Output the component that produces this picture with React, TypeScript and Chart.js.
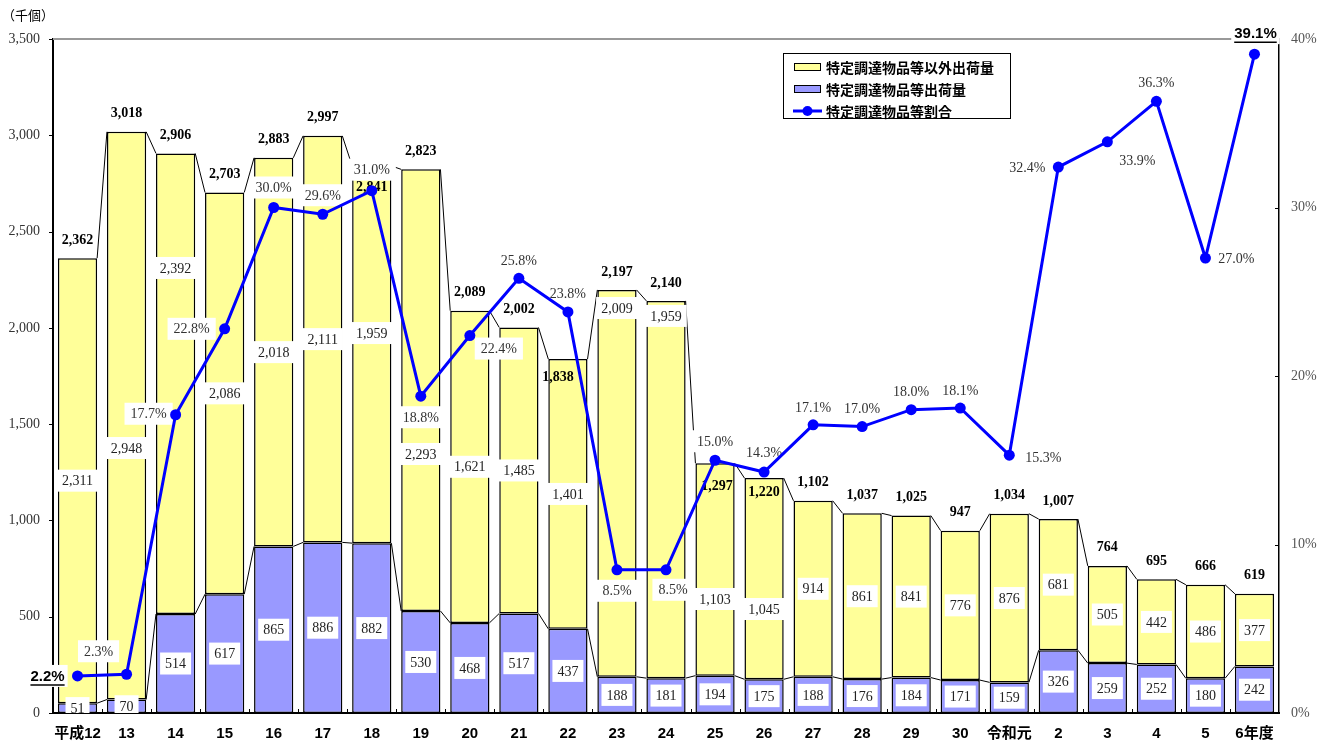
import React, { useEffect, useRef } from 'react';
import { Chart, registerables } from 'chart.js';

Chart.register(...registerables);

const categories = ['平成12', '13', '14', '15', '16', '17', '18', '19', '20', '21', '22', '23', '24', '25', '26', '27', '28', '29', '30', '令和元', '2', '3', '4', '5', '6年度'];
const otherShipments = [2311, 2948, 2392, 2086, 2018, 2111, 1959, 2293, 1621, 1485, 1401, 2009, 1959, 1103, 1045, 914, 861, 841, 776, 876, 681, 505, 442, 486, 377];
const specificShipments = [51, 70, 514, 617, 865, 886, 882, 530, 468, 517, 437, 188, 181, 194, 175, 188, 176, 184, 171, 159, 326, 259, 252, 180, 242];
const totalShipments = [2362, 3018, 2906, 2703, 2883, 2997, 2841, 2823, 2089, 2002, 1838, 2197, 2140, 1297, 1220, 1102, 1037, 1025, 947, 1034, 1007, 764, 695, 666, 619];
const specificRatio = [2.2, 2.3, 17.7, 22.8, 30.0, 29.6, 31.0, 18.8, 22.4, 25.8, 23.8, 8.5, 8.5, 15.0, 14.3, 17.1, 17.0, 18.0, 18.1, 15.3, 32.4, 33.9, 36.3, 27.0, 39.1];

// label anchors (axis units) where the original labels were moved; null = centered
const otherLabelAt: (number | null)[] = [null, 1376, 2311, null, null, null, 1973, 1345, null, null, null, 2103, 2062, 592, 540, null, null, null, null, null, null, null, null, null, null];
const totalLabelAt: (number | null)[] = [null, null, null, null, null, null, 2731, null, null, null, 1745, null, null, 1179, 1148, null, null, null, null, null, null, null, null, null, null];
const totalLabelDx = [0, 0, 0, 0, 0, 0, 0, 0, 0, 0, -10, 0, 0, 2, 0, 0, 0, 0, 0, 0, 0, 0, 0, 0, 0];
const pctLabelOffset: [number, number][] = [
  [-30, 0], [-28, -23], [-27, -1], [-33, 0], [0, -20], [0, -19], [0, -21], [0, 21], [29, 13], [0, -18],
  [0, -19], [0, 21], [7, 20], [0, -19], [0, -20], [0, -18], [0, -18], [0, -18], [0, -18], [34, 2],
  [-31, 0], [30, 19], [0, -19], [31, 0], [1, -21],
];
const emphasizedPct = [0, 24];

const SERIF = '"Liberation Serif", "Times New Roman", serif';
const SANS = '"Liberation Sans", "Noto Sans CJK JP", sans-serif';
const CJK = '"Noto Sans CJK JP", "Liberation Sans", sans-serif';

const YELLOW = '#FFFF99';
const PURPLE = '#9999FF';
const BLUE = '#0000FF';

const fmt = (v: number) => v.toLocaleString('en-US');

function boxLabel(ctx: CanvasRenderingContext2D, text: string, x: number, y: number, font: string, color: string, pad = 5) {
  ctx.font = font;
  const w = ctx.measureText(text).width;
  ctx.fillStyle = '#ffffff';
  ctx.fillRect(x - w / 2 - pad, y - 11, w + pad * 2, 22);
  ctx.fillStyle = color;
  ctx.textAlign = 'center';
  ctx.textBaseline = 'middle';
  ctx.fillText(text, x, y + 1);
}

const decorPlugin = {
  id: 'decor',
  beforeDatasetDraw(chart: any, args: any) {
    if (args.index !== 2) return;
    const ctx: CanvasRenderingContext2D = chart.ctx;
    const yScale = chart.scales.y;
    const area = chart.chartArea;
    const m0 = chart.getDatasetMeta(0).data;
    const m1 = chart.getDatasetMeta(1).data;
    ctx.save();
    // series connector lines
    ctx.strokeStyle = '#000';
    ctx.lineWidth = 1;
    [m0, m1].forEach((els: any[]) => {
      for (let i = 0; i < els.length - 1; i++) {
        const a = els[i];
        const b = els[i + 1];
        ctx.beginPath();
        ctx.moveTo(a.x + a.width / 2, a.y);
        ctx.lineTo(b.x - b.width / 2, b.y);
        ctx.stroke();
      }
    });
    // segment labels
    ctx.save();
    ctx.beginPath();
    ctx.rect(area.left, area.top, area.right - area.left, area.bottom - area.top);
    ctx.clip();
    const valFont = `14px ${SERIF}`;
    for (let i = 0; i < categories.length; i++) {
      const p = m0[i];
      boxLabel(ctx, fmt(specificShipments[i]), p.x, (p.y + p.base) / 2, valFont, '#222');
      const o = m1[i];
      const at = otherLabelAt[i];
      const yy = at == null ? (o.y + o.base) / 2 : yScale.getPixelForValue(at);
      boxLabel(ctx, fmt(otherShipments[i]), o.x, yy, valFont, '#222');
    }
    ctx.restore();
    // totals
    ctx.font = `bold 14px ${SERIF}`;
    ctx.fillStyle = '#000';
    ctx.textAlign = 'center';
    ctx.textBaseline = 'middle';
    for (let i = 0; i < categories.length; i++) {
      const o = m1[i];
      const at = totalLabelAt[i];
      const yy = at == null ? o.y - 18 : yScale.getPixelForValue(at);
      ctx.fillText(fmt(totalShipments[i]), o.x + totalLabelDx[i], yy);
    }
    // top border
    ctx.strokeStyle = '#999';
    ctx.lineWidth = 2;
    ctx.beginPath();
    ctx.moveTo(area.left, area.top);
    ctx.lineTo(area.right, area.top);
    ctx.stroke();
    // percent labels
    const pts = chart.getDatasetMeta(2).data;
    for (let i = 0; i < pts.length; i++) {
      const p = pts[i];
      const [dx, dy] = pctLabelOffset[i];
      const text = specificRatio[i].toFixed(1) + '%';
      const cx = p.x + dx;
      const cy = p.y + dy;
      if (emphasizedPct.includes(i)) {
        const font = `bold 15px ${SANS}`;
        boxLabel(ctx, text, cx, cy, font, '#000', 3);
        ctx.font = font;
        const w = ctx.measureText(text).width;
        ctx.strokeStyle = '#000';
        ctx.lineWidth = 1.5;
        ctx.beginPath();
        ctx.moveTo(cx - w / 2, cy + 9);
        ctx.lineTo(cx + w / 2, cy + 9);
        ctx.stroke();
      } else {
        boxLabel(ctx, text, cx, cy, `14px ${SERIF}`, '#333', 6);
      }
    }
    ctx.restore();
  },
  afterDatasetsDraw(chart: any) {
    const ctx: CanvasRenderingContext2D = chart.ctx;
    const area = chart.chartArea;
    const x = chart.scales.x;
    const y = chart.scales.y;
    const y1 = chart.scales.y1;
    ctx.save();
    // tick marks
    ctx.strokeStyle = '#000';
    ctx.lineWidth = 1;
    for (let v = 0; v <= 3500; v += 500) {
      const py = Math.round(y.getPixelForValue(v)) + 0.5;
      ctx.beginPath();
      ctx.moveTo(area.left - 4, py);
      ctx.lineTo(area.left, py);
      ctx.stroke();
    }
    for (let v = 10; v <= 30; v += 10) {
      const py = Math.round(y1.getPixelForValue(v)) + 0.5;
      ctx.beginPath();
      ctx.moveTo(area.right - 4, py);
      ctx.lineTo(area.right, py);
      ctx.stroke();
    }
    for (let i = 1; i < categories.length; i++) {
      const px = Math.round((x.getPixelForValue(i - 1) + x.getPixelForValue(i)) / 2) + 0.5;
      ctx.beginPath();
      ctx.moveTo(px, area.bottom);
      ctx.lineTo(px, area.bottom - 4);
      ctx.stroke();
    }
    // unit title
    ctx.font = `13px ${CJK}`;
    ctx.fillStyle = '#000';
    ctx.textAlign = 'left';
    ctx.textBaseline = 'middle';
    ctx.fillText('（千個）', 2, 15);
    // legend
    const lx = 783, ly = 53, lw = 227, lh = 65;
    ctx.fillStyle = '#fff';
    ctx.fillRect(lx, ly, lw, lh);
    ctx.strokeStyle = '#000';
    ctx.lineWidth = 1;
    ctx.strokeRect(lx + 0.5, ly + 0.5, lw, lh);
    const rows = [
      { label: '特定調達物品等以外出荷量', kind: 'bar', color: YELLOW },
      { label: '特定調達物品等出荷量', kind: 'bar', color: PURPLE },
      { label: '特定調達物品等割合', kind: 'line', color: BLUE },
    ];
    rows.forEach((r, k) => {
      const cy = 67 + k * 22;
      if (r.kind === 'bar') {
        ctx.fillStyle = r.color;
        ctx.fillRect(794, cy - 4, 27, 8);
        ctx.strokeStyle = '#000';
        ctx.lineWidth = 1;
        ctx.strokeRect(794.5, cy - 3.5, 26, 7);
      } else {
        ctx.strokeStyle = BLUE;
        ctx.lineWidth = 3;
        ctx.beginPath();
        ctx.moveTo(793, cy);
        ctx.lineTo(822, cy);
        ctx.stroke();
        ctx.fillStyle = BLUE;
        ctx.beginPath();
        ctx.arc(807.5, cy, 5, 0, Math.PI * 2);
        ctx.fill();
      }
      ctx.font = `bold 14px ${CJK}`;
      ctx.fillStyle = '#000';
      ctx.textAlign = 'left';
      ctx.textBaseline = 'middle';
      ctx.fillText(r.label, 826, cy + 1);
    });
    ctx.restore();
  },
};

export default function App() {
  const ref = useRef<HTMLCanvasElement | null>(null);
  useEffect(() => {
    document.body.style.margin = '0';
    const canvas = ref.current;
    if (!canvas) return;
    const chart = new Chart(canvas, {
      type: 'bar',
      data: {
        labels: categories,
        datasets: [
          {
            label: '特定調達物品等出荷量',
            data: specificShipments,
            backgroundColor: PURPLE,
            borderColor: '#000',
            borderWidth: 1.5,
            borderSkipped: false,
            stack: 's',
            order: 1,
            yAxisID: 'y',
            barPercentage: 0.8,
            categoryPercentage: 1,
          },
          {
            label: '特定調達物品等以外出荷量',
            data: otherShipments,
            backgroundColor: YELLOW,
            borderColor: '#000',
            borderWidth: 1.5,
            borderSkipped: false,
            stack: 's',
            order: 1,
            yAxisID: 'y',
            barPercentage: 0.8,
            categoryPercentage: 1,
          },
          {
            type: 'line',
            label: '特定調達物品等割合',
            data: specificRatio,
            borderColor: BLUE,
            backgroundColor: BLUE,
            borderWidth: 3,
            pointRadius: 5.5,
            pointBackgroundColor: BLUE,
            pointBorderWidth: 0,
            yAxisID: 'y1',
            order: 0,
          } as any,
        ],
      },
      options: {
        responsive: false,
        animation: false,
        layout: { padding: { top: 39, left: 0, right: 0, bottom: 0 } },
        plugins: { legend: { display: false }, tooltip: { enabled: false } },
        scales: {
          x: {
            stacked: true,
            grid: { display: false, drawTicks: false },
            border: { display: true, color: '#000', width: 2 },
            ticks: { font: { family: SANS, size: 15, weight: 'bold' }, color: '#000', padding: 12, autoSkip: false, maxRotation: 0 },
            afterFit: (s: any) => { s.height = 29; },
          },
          y: {
            stacked: true,
            min: 0,
            max: 3500,
            grid: { display: false, drawTicks: false },
            border: { display: true, color: '#000', width: 2 },
            ticks: { stepSize: 500, callback: (v: any) => fmt(Number(v)), font: { family: SERIF, size: 14 }, color: '#333', padding: 13 },
            afterFit: (s: any) => { s.width = 53; },
          },
          y1: {
            position: 'right',
            min: 0,
            max: 40,
            grid: { display: false, drawTicks: false },
            border: { display: true, color: '#000', width: 1.5 },
            ticks: { stepSize: 10, callback: (v: any) => v + '%', font: { family: SERIF, size: 14 }, color: '#555', padding: 12 },
            afterFit: (s: any) => { s.width = 50; },
          },
        },
      } as any,
      plugins: [decorPlugin],
    });
    return () => chart.destroy();
  }, []);
  return <canvas ref={ref} width={1329} height={742} style={{ display: 'block' }} />;
}
